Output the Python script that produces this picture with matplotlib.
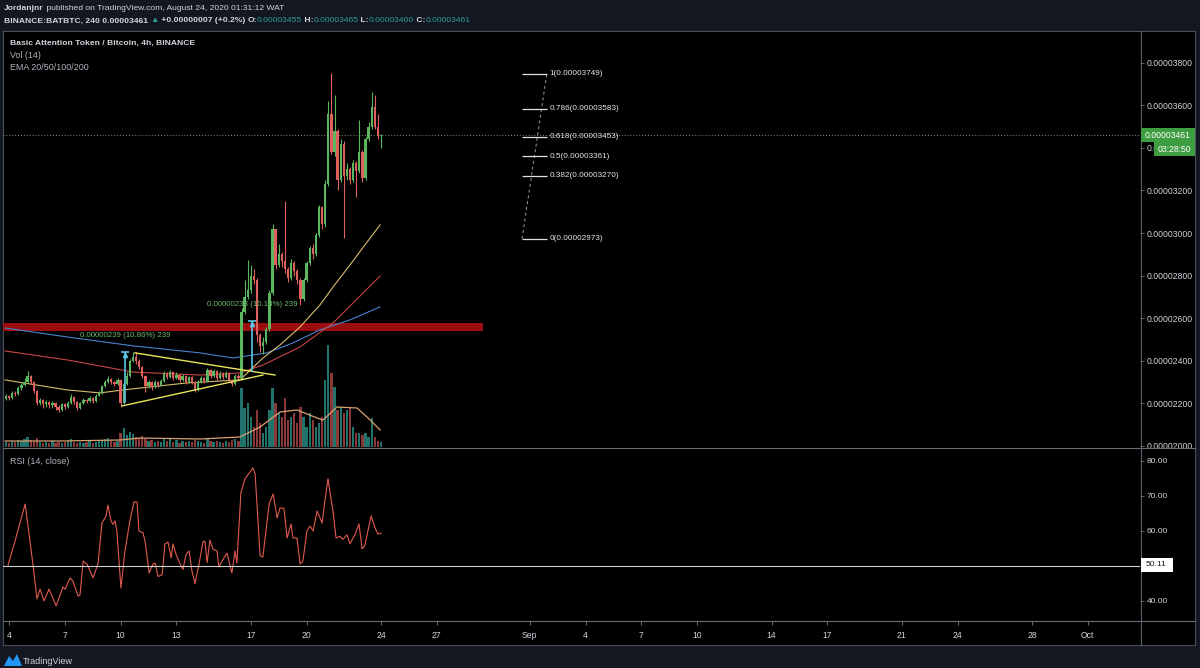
import numpy as np
import matplotlib.pyplot as plt
from matplotlib.lines import Line2D
from matplotlib.patches import Rectangle, Polygon

plt.rcParams['font.family'] = ['Liberation Sans', 'DejaVu Sans']

W, H = 1200, 668
BG = '#131722'
TXT = '#d1d4dc'
UP, DN = '#5bb65e', '#e0605e'
VUP, VDN = '#21746c', '#8a3838'

#++++++++++++++++++++++++++++++++++++++++++++++
# BATBTC 4h candles, prices in satoshi (1e-8 BTC)
# bar index: 0 = Aug 4 00:00, 6 bars per day
#++++++++++++++++++++++++++++++++++++++++++++++
bar0 = -1
first_open = 2220
closes = [2235, 2225, 2250, 2245, 2270, 2285, 2300, 2330, 2300, 2260,
          2200, 2215, 2195, 2205, 2190, 2200, 2185, 2170, 2195, 2185,
          2200, 2230, 2205, 2180, 2200, 2215, 2210, 2225, 2210, 2235,
          2250, 2280, 2300, 2315, 2300, 2290, 2310, 2200, 2290, 2330,
          2400, 2420, 2400, 2370, 2330, 2280, 2300, 2275, 2300, 2285,
          2305, 2340, 2325, 2345, 2320, 2335, 2310, 2330, 2300, 2325,
          2300, 2265, 2300, 2320, 2305, 2355, 2330, 2350, 2320, 2340,
          2325, 2340, 2310, 2290, 2330, 2320, 2630, 2700, 2730, 2800,
          2780, 2520, 2470, 2490, 2550, 2720, 3020, 2850, 2900, 2870,
          2830, 2790, 2860, 2820, 2780, 2690, 2780, 2860, 2930, 2900,
          2990, 3120, 3040, 3230, 3560, 3380, 3480, 3250, 3420, 3270,
          3300, 3250, 3330, 3290, 3380, 3260, 3440, 3500, 3590, 3500,
          3455, 3461]
highs = [2245, 2240, 2260, 2260, 2280, 2295, 2320, 2350, 2335, 2305,
         2265, 2225, 2220, 2215, 2210, 2210, 2205, 2190, 2200, 2200,
         2210, 2245, 2235, 2210, 2205, 2225, 2220, 2235, 2230, 2245,
         2260, 2285, 2310, 2330, 2320, 2305, 2320, 2315, 2300, 2345,
         2410, 2440, 2440, 2410, 2375, 2335, 2310, 2305, 2310, 2305,
         2315, 2350, 2345, 2355, 2350, 2345, 2340, 2340, 2335, 2330,
         2330, 2305, 2310, 2330, 2325, 2365, 2360, 2360, 2355, 2350,
         2345, 2350, 2345, 2315, 2340, 2340, 2650, 2780, 2875, 2850,
         2830, 2790, 2530, 2510, 2560, 2730, 3040, 3020, 2950, 2910,
         3150, 2840, 2880, 2870, 2830, 2790, 2790, 2870, 2940, 2950,
         3000, 3130, 3125, 3250, 3620, 3750, 3650, 3490, 3440, 3430,
         3330, 3310, 3345, 3340, 3530, 3390, 3450, 3520, 3660, 3650,
         3560, 3465]
lows = [2215, 2215, 2220, 2235, 2240, 2265, 2280, 2295, 2290, 2250,
        2190, 2190, 2180, 2185, 2180, 2180, 2170, 2160, 2165, 2175,
        2180, 2195, 2195, 2170, 2175, 2195, 2200, 2205, 2200, 2205,
        2235, 2245, 2275, 2295, 2290, 2280, 2285, 2183, 2195, 2285,
        2325, 2395, 2385, 2360, 2320, 2254, 2270, 2265, 2270, 2275,
        2280, 2300, 2315, 2320, 2310, 2315, 2300, 2305, 2290, 2295,
        2290, 2254, 2260, 2295, 2295, 2300, 2320, 2325, 2310, 2315,
        2315, 2320, 2300, 2280, 2285, 2310, 2310, 2620, 2690, 2720,
        2760, 2490, 2440, 2430, 2480, 2540, 2710, 2830, 2840, 2840,
        2810, 2770, 2780, 2800, 2760, 2660, 2680, 2770, 2850, 2880,
        2890, 2980, 3020, 3030, 3220, 3370, 3360, 3200, 3240, 2975,
        3250, 3230, 3240, 3170, 3280, 3240, 3250, 3430, 3490, 3490,
        3440, 3400]
volumes = [5, 4, 6, 5, 7, 6, 8, 10, 7, 6,
           9, 5, 4, 5, 4, 6, 4, 5, 4, 5,
           6, 8, 5, 4, 5, 4, 5, 6, 4, 5,
           6, 7, 8, 9, 6, 5, 6, 14, 19, 12,
           15, 13, 10, 9, 11, 8, 6, 7, 5, 6,
           5, 8, 6, 9, 5, 7, 4, 6, 5, 6,
           5, 7, 6, 5, 4, 9, 6, 5, 6, 5,
           4, 6, 5, 7, 8, 6,
           59, 39, 44, 30, 20, 37, 24, 14, 20, 37,
           59, 44, 34, 30, 49, 27, 30, 34, 24, 40,
           30, 20, 34, 27, 20, 24, 30, 67, 102, 74,
           60, 37, 40, 34, 37, 40, 20, 14, 14, 12,
           14, 10, 29, 10, 6, 5]

# volume moving average
vma_k = [-1.3, 16.4, 35.8, 42.3, 61.6, 74.5, 81.0, 87.4, 92.9, 99.4, 101.3, 105.8, 112.3, 116.5, 119.7]
vma_v = [6, 6, 7, 9, 8, 10, 20, 35, 37, 29, 27, 40, 39, 27, 17]

# EMA lines
ema_tan_k = [-1.3, 18.7, 29.4, 36.8, 57.4, 74.5, 81.9, 87.4, 93.9, 100.3, 104.5, 110.0, 114.8, 119.7]
ema_tan_v = [2310, 2263, 2249, 2263, 2296, 2310, 2413, 2474, 2559, 2662, 2746, 2850, 2944, 3038]
ema_red_k = [-1.3, 18.7, 40.0, 61.6, 74.5, 81.9, 93.9, 104.5, 119.7]
ema_red_v = [2446, 2404, 2347, 2333, 2343, 2380, 2465, 2577, 2798]
ema_blue_k = [-1.3, 18.7, 40.0, 61.6, 72.2, 83.2, 91.6, 100.3, 110.0, 119.7]
ema_blue_v = [2554, 2512, 2470, 2437, 2413, 2437, 2484, 2545, 2592, 2653]

# drawings
tri_upper_k, tri_upper_v = [40.6, 85.8], [2437, 2333]
tri_lower_k, tri_lower_v = [36.5, 81.9], [2188, 2333]
meas_k = [37.4, 78.4]
meas_from = [2200, 2347]
meas_to = [2439, 2585]
meas_text = ['0.00000239 (10.86%) 239', '0.00000238 (10.14%) 239']
zone_low, zone_high, zone_end = 2540, 2578, 152.9
fib_labels = ['1', '0.786', '0.618', '0.5', '0.382', '0']
fib_price = [3749, 3583, 3453, 3361, 3270, 2973]
fib_k0, fib_k1 = 165.5, 173.5
last_price = 3461

# RSI (14, close)
rsi_k = [-0.3, 1.9, 5.2, 7.7, 9.0, 10.0, 11.3, 12.9, 15.2, 17.4, 18.1, 19.7, 20.6, 22.3, 22.9,
         23.9, 25.2, 27.1, 28.7, 30.0, 31.3, 31.9, 32.9, 33.5, 34.2, 34.8, 36.1, 37.4, 39.0,
         40.3, 41.3, 41.9, 43.2, 43.9, 45.2, 46.5, 47.1, 48.1, 49.4, 50.3, 51.3, 52.3, 52.9,
         53.9, 54.8, 56.1, 57.1, 58.1, 59.0, 60.0, 61.3, 62.6, 63.2, 63.9, 64.8, 65.8, 67.1,
         67.7, 68.7, 70.3, 71.9, 72.9, 73.5, 74.8, 76.1, 78.7, 79.4, 81.0, 81.9, 83.9, 85.2,
         86.5, 87.4, 88.7, 89.7, 91.0, 91.6, 92.9, 93.9, 94.8, 96.1, 97.1, 98.1, 99.4, 101.0,
         101.9, 102.9, 103.9, 104.5, 105.5, 106.8, 107.7, 109.0, 110.0, 111.6, 112.9, 113.9,
         114.8, 116.8, 118.1, 119.0, 120.0]
rsi_v = [50.3, 57.0, 67.7, 50.6, 40.6, 43.4, 40.0, 43.4, 38.6, 44.0, 43.4, 46.6, 45.7, 41.4, 41.7,
         51.4, 50.5, 46.6, 50.6, 62.3, 64.3, 67.4, 62.9, 61.9, 62.9, 60.0, 43.7, 54.3, 62.9,
         68.3, 68.3, 60.0, 59.5, 57.1, 48.0, 50.6, 50.8, 47.0, 47.5, 56.3, 56.8, 52.3, 56.3,
         53.3, 51.4, 49.0, 53.3, 54.3, 48.6, 45.0, 50.6, 57.0, 57.1, 51.0, 57.4, 54.8, 54.3,
         49.7, 51.4, 53.7, 48.0, 54.3, 50.9, 70.9, 74.9, 78.0, 76.2, 52.9, 52.6, 67.7, 70.6,
         63.7, 66.6, 66.4, 58.0, 62.0, 58.0, 58.0, 50.6, 51.4, 60.0, 61.4, 60.0, 65.7, 62.3,
         68.6, 74.9, 69.0, 65.7, 58.0, 58.5, 57.6, 58.9, 56.3, 59.0, 62.0, 54.9,
         55.9, 64.3, 60.9, 59.1, 59.4]
rsi_last = 50.11

# time axis (days after Aug 4)
tick_days = [0, 3, 6, 9, 13, 16, 20, 23, 28, 31, 34, 37, 41, 44, 48, 51, 55, 58]
tick_labels = ['4', '7', '10', '13', '17', '20', '24', '27', 'Sep', '4', '7', '10', '14', '17', '21', '24', '28', 'Oct']

price_ticks = list(range(2000, 3801, 200))
rsi_ticks = [40, 50, 60, 70, 80]

XL = (-1.94, 364.84)


def box(x0, y0, x1, y1):
    # pixel box (top-left origin) -> figure rect
    return [x0 / W, 1 - y1 / H, (x1 - x0) / W, (y1 - y0) / H]


def ftext(x, y, s, **kw):
    kw.setdefault('va', 'center')
    kw.setdefault('color', TXT)
    kw.setdefault('zorder', 11)
    return fig.text(x / W, 1 - y / H, s, **kw)


def fline(x0, y0, x1, y1, color='#4a4e59', lw=0.8):
    fig.add_artist(Line2D([x0 / W, x1 / W], [1 - y0 / H, 1 - y1 / H], color=color, lw=lw,
                          transform=fig.transFigure, zorder=9))


def fbox(x0, y0, x1, y1, color):
    fig.add_artist(Rectangle((x0 / W, 1 - y1 / H), (x1 - x0) / W, (y1 - y0) / H,
                             facecolor=color, edgecolor='none', transform=fig.transFigure,
                             zorder=10))


fig = plt.figure(figsize=(W / 100, H / 100), dpi=100, facecolor=BG)

frame = fig.add_axes(box(3, 31, 1195, 645))
frame.set_facecolor('black')
frame.set_xticks([])
frame.set_yticks([])
for s in frame.spines.values():
    s.set_color('#4a4e59')
    s.set_linewidth(0.8)
frame.set_zorder(-1)

ax = fig.add_axes(box(3, 32, 1140, 447))
ax_rsi = fig.add_axes(box(3, 448, 1140, 620))
ax_t = fig.add_axes(box(3, 621, 1140, 645))

# volume on its own scale in the bottom of the price pane
axv = ax.twinx()
k = np.arange(len(closes)) + bar0
c = np.array(closes, dtype=float)
o = np.r_[first_open, c[:-1]]
up = c >= o
axv.bar(k, volumes, width=0.72, color=np.where(up, VUP, VDN), linewidth=0)
axv.plot(vma_k, vma_v, color='#d9a070', lw=0.9)
axv.set_ylim(0, 415)
axv.set_yticks([])
axv.patch.set_visible(False)
for s in axv.spines.values():
    s.set_visible(False)
ax.set_zorder(axv.get_zorder() + 1)
ax.patch.set_visible(False)
ax.yaxis.tick_right()

# red zone
ax.fill_between([XL[0], zone_end], zone_low, zone_high, color='#a30d0f', lw=0, alpha=0.95, zorder=1)

# EMAs
ax.plot(ema_blue_k, ema_blue_v, color='#4a82d0', lw=0.8, zorder=2)
ax.plot(ema_red_k, ema_red_v, color='#c84444', lw=0.8, zorder=2)
ax.plot(ema_tan_k, ema_tan_v, color='#d8bc6c', lw=0.8, zorder=2)

# candles
col = np.where(up, UP, DN)
ax.vlines(k, lows, highs, colors=col, lw=0.8, zorder=3)
ax.bar(k, np.maximum(np.abs(c - o), 4), bottom=np.minimum(o, c), width=0.72,
       color=col, linewidth=0, zorder=3)

# triangle
ax.plot(tri_upper_k, tri_upper_v, color='#e6e65a', lw=1.0, zorder=4)
ax.plot(tri_lower_k, tri_lower_v, color='#e6e65a', lw=1.0, zorder=4)

# price range measurements
for mk, m0, m1, lab in zip(meas_k, meas_from, meas_to, meas_text):
    ax.vlines(mk, m0, m1, color='#5ec4e8', lw=1.2, zorder=5)
    ax.hlines(m1, mk - 1.3, mk + 1.3, color='#5ec4e8', lw=1.2, zorder=5)
    ax.plot(mk, m1 - 12, marker='^', ms=3, color='#5ec4e8', zorder=5)
    ax.annotate(lab, (mk, m1), xytext=(0, 12), textcoords='offset points', ha='center',
                va='center', fontsize=5.7, color='#6cb86a', zorder=6)

# fib retracement
ax.plot([fib_k0, fib_k1], [fib_price[-1], fib_price[0]], color='#a0a0a0', lw=0.7,
        ls=(0, (3, 3)), zorder=4)
ax.hlines(fib_price, fib_k0, fib_k1, color='#e0e0e0', lw=0.9, zorder=4)
for lab, p in zip(fib_labels, fib_price):
    ax.text(fib_k1 + 0.8, p, f"{lab}({p / 1e8:.8f})", va='center', ha='left',
            fontsize=5.9, color='#e6e6e6')

ax.axhline(last_price, color='#7f927f', lw=0.7, ls=(0, (1, 2)), zorder=2)

ax.set_xlim(XL)
ax.set_ylim(1995, 3944)
ax.set_xticks([])
ax.set_yticks(price_ticks)
ax.set_yticklabels([f"{v / 1e8:.8f}" for v in price_ticks])
ax.tick_params(axis='y', length=3, width=0.6, color='#787b86', labelcolor=TXT,
               labelsize=6.2, pad=2)
for s in ax.spines.values():
    s.set_visible(False)

# RSI pane
ax_rsi.set_facecolor('none')
ax_rsi.plot(rsi_k, rsi_v, color='#e05a4f', lw=0.8)
ax_rsi.axhline(rsi_last, color='#d0d0d0', lw=0.8)
ax_rsi.set_xlim(XL)
ax_rsi.set_ylim(34.57, 83.71)
ax_rsi.set_xticks([])
ax_rsi.yaxis.tick_right()
ax_rsi.set_yticks(rsi_ticks)
ax_rsi.set_yticklabels([f"{v:.2f}" for v in rsi_ticks])
ax_rsi.tick_params(axis='y', length=3, width=0.6, color='#787b86', labelcolor=TXT,
                   labelsize=6, pad=2)
for s in ax_rsi.spines.values():
    s.set_visible(False)

# time scale
ax_t.set_facecolor('none')
ax_t.set_xlim(XL)
ax_t.set_ylim(0, 1)
tick_pos = [d * 6 for d in tick_days]
ax_t.vlines(tick_pos, 0.82, 1.0, color='#787b86', lw=0.6)
for p, lab in zip(tick_pos, tick_labels):
    ax_t.text(p, 0.38, lab, ha='center', va='center', fontsize=6.2, color=TXT)
ax_t.set_xticks([])
ax_t.set_yticks([])
for s in ax_t.spines.values():
    s.set_visible(False)

# pane separators
fline(3, 447.5, 1195, 447.5, color='#6a6d78')
fline(3, 620.5, 1195, 620.5, color='#6a6d78')
fline(1140.5, 31, 1140.5, 645, color='#5d606b')

# price / countdown / rsi labels on the scales
fbox(1141, 128, 1195, 142, '#3e9c41')
ftext(1145, 135, '0.00003461', fontsize=6.2, color='white')
fbox(1154, 142, 1195, 156, '#3e9c41')
ftext(1158, 149, '03:28:50', fontsize=6.2, color='white')
fbox(1141, 558, 1173, 572, 'white')
ftext(1146, 565, f"{rsi_last:.2f}", fontsize=6, color='#131722')

# pane titles
ftext(10, 43, 'Basic Attention Token / Bitcoin, 4h, BINANCE', fontsize=6.1, weight='bold')
ftext(10, 56, 'Vol (14)', fontsize=6.4, color='#b2b5be')
ftext(10, 68, 'EMA 20/50/100/200', fontsize=6.4, color='#b2b5be')
ftext(10, 461, 'RSI (14, close)', fontsize=6.4, color='#b2b5be')

# header rows
renderer = fig.canvas.get_renderer()


def text_row(x, y, parts, size):
    for s, colr, wt in parts:
        t = ftext(x, y, s, fontsize=size, color=colr, weight=wt)
        x += t.get_window_extent(renderer=renderer).width


GRN = '#2fa08c'
text_row(4, 8, [('Jordanjnr', TXT, 'bold'),
                (' published on TradingView.com, August 24, 2020 01:31:12 WAT', TXT, 'normal')], 6.1)
text_row(4, 21, [('BINANCE:BATBTC, 240 0.00003461 ', TXT, 'bold'), ('\u25b2', GRN, 'normal'),
                 (' +0.00000007 (+0.2%) ', TXT, 'bold'),
                 ('O:', TXT, 'bold'), ('0.00003455', GRN, 'normal'),
                 (' H:', TXT, 'bold'), ('0.00003465', GRN, 'normal'),
                 (' L:', TXT, 'bold'), ('0.00003400', GRN, 'normal'),
                 (' C:', TXT, 'bold'), ('0.00003461', GRN, 'normal')], 6.1)

# TradingView footer logo
fig.add_artist(Polygon([(4 / W, 1 - 666 / H), (9 / W, 1 - 656 / H), (13 / W, 1 - 661 / H),
                        (17 / W, 1 - 654 / H), (22 / W, 1 - 666 / H)], closed=True,
                       facecolor='#2196f3', edgecolor='none', transform=fig.transFigure))
ftext(23, 661, 'TradingView', fontsize=6.5)

fig.savefig('out.png', dpi=100, facecolor=BG)
